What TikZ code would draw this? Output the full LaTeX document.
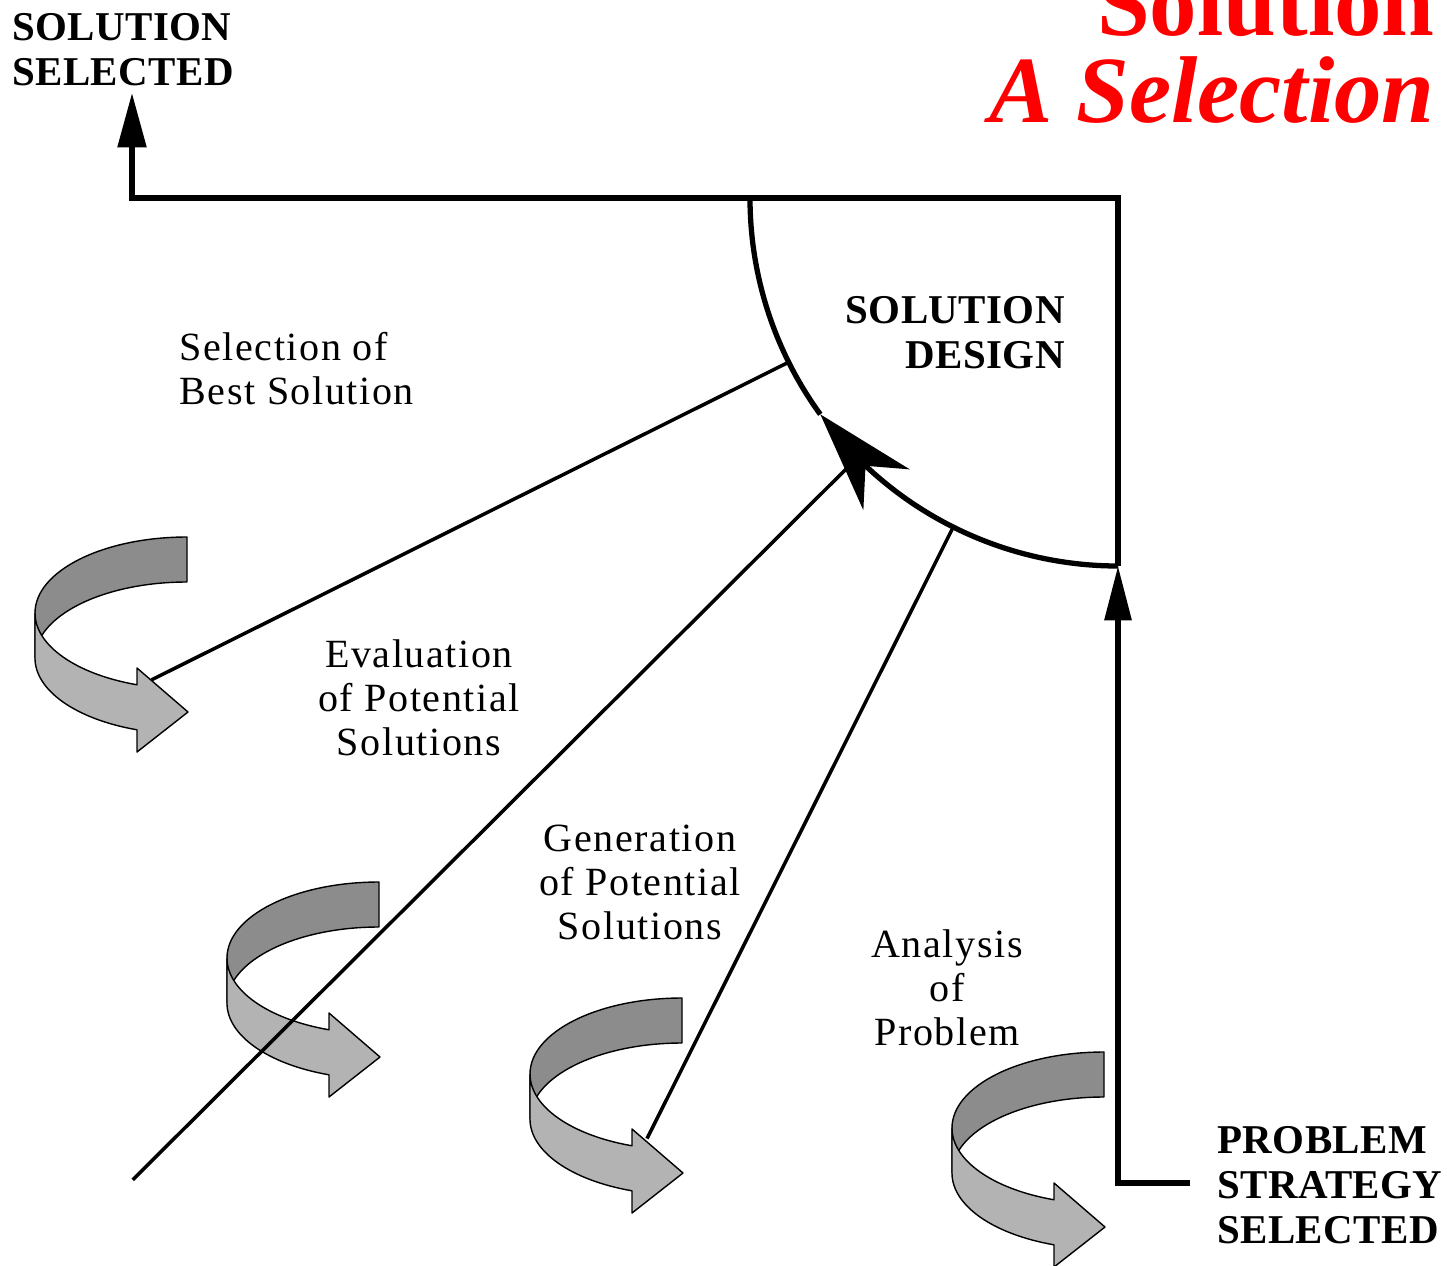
\documentclass[tikz,border=0pt]{standalone}
\usepackage{fontspec}
\setmainfont{Liberation Serif}
\newfontfamily\lblfont[LetterSpace=4]{Liberation Serif}
\newfontfamily\capfont[LetterSpace=1]{Liberation Serif}
\newfontfamily\titlefont{Liberation Serif}
\usetikzlibrary{arrows.meta,bending,calc}
\definecolor{ribdark}{HTML}{8C8C8C}
\definecolor{riblight}{HTML}{B3B3B3}
\definecolor{titlered}{HTML}{FF0000}
\tikzset{
  frame/.style={line width=3pt, line join=miter},
  ray/.style={line width=2pt},
  lbl/.style={font=\lblfont\fontsize{22.8}{25}\selectfont, inner sep=0pt},
  caplbl/.style={font=\capfont\bfseries\fontsize{23.3}{25.6}\selectfont, inner sep=0pt},
  ribedge/.style={draw=black, line width=0.8pt, line join=round},
  ribbon/.pic={
    \path[ribedge, fill=ribdark] (0,-76) arc[start angle=270, end angle=180, x radius=152, y radius=76]
       -- (-152,45) arc[start angle=180, end angle=270, x radius=152, y radius=76] -- cycle;
    \path[ribedge, fill=riblight] (-152,0) arc[start angle=180, end angle=109.2, x radius=152, y radius=76]
       -- (-50,55) -- (1,99) -- (-50,139) -- (-50,116.8)
       arc[start angle=109.2, end angle=180, x radius=152, y radius=76] -- cycle;
  }
}
\begin{document}
\begin{tikzpicture}[x=0.02cm, y=-0.02cm]
\useasboundingbox (0,0) rectangle (1447,1265);
% key points
\coordinate (C) at (1118,198);
\coordinate (TL) at (132,198);
\coordinate (SS) at (132,93);
\coordinate (ARCB) at (1118,566);
\coordinate (BR) at (1118,1183);
\coordinate (BRE) at (1190,1183);
\coordinate (ARROWPT) at ($(C)+(144:368)$);
% rays
\coordinate (R1a) at ($(C)+(153.5:368)$);
\coordinate (R1b) at ($(C)+(153.5:1080)$);
\coordinate (R2a) at ($(C)+(135.1:368)$);
\coordinate (R2b) at ($(C)+(135.1:1391)$);
\coordinate (R3a) at ($(C)+(116.6:368)$);
\coordinate (R3b) at ($(C)+(116.6:1052)$);
\draw[ray] (R1a) -- (R1b);
\draw[ray] (R3a) -- (R3b);
% ribbon arrows
\pic (ribA) at (187,613) {ribbon};
\pic (ribB) at (379,958) {ribbon};
\pic (ribC) at (682,1074) {ribbon};
\pic (ribD) at (1104,1128) {ribbon};
\draw[ray] (R2a) -- (R2b);
% frame
\draw[frame, -{Triangle[length=31pt, width=16pt]}] (ARCB) -- (C) -- (TL) -- (SS);
\draw[frame, -{Triangle[length=31pt, width=15pt]}] (BRE) -- (BR) -- (ARCB);
\draw[frame, -{Stealth[length=57pt, width=35pt, inset=18pt]}] (ARCB) arc[start angle=90, end angle=144, radius=368];
\draw[frame] (ARROWPT) arc[start angle=144, end angle=180, radius=368];
% labels (base anchor = baseline of last line)
\node[caplbl, anchor=base west, align=left] (solsel) at (12,85) {SOLUTION\\SELECTED};
\node[caplbl, anchor=base east, align=right] (soldes) at (1065,368) {SOLUTION\\DESIGN};
\node[caplbl, anchor=base west, align=left] (probstrat) at (1217,1243) {PROBLEM\\STRATEGY\\SELECTED};
\node[lbl, anchor=base west, align=left] (selbest) at (179,404) {Selection of\\Best Solution};
\node[lbl, anchor=base, align=center] (evalpot) at (419,755) {Evaluation\\of Potential\\Solutions};
\node[lbl, anchor=base, align=center] (genpot) at (640,939) {Generation\\of Potential\\Solutions};
\node[lbl, anchor=base, align=center] (anaprob) at (947,1045) {Analysis\\of\\Problem};
\node[anchor=base east, align=right, inner sep=0pt, text=titlered, font=\titlefont\bfseries\fontsize{54}{49.5}\selectfont] (title) at (1435,122) {Solution\\\itshape A Selection};
\end{tikzpicture}
\end{document}
